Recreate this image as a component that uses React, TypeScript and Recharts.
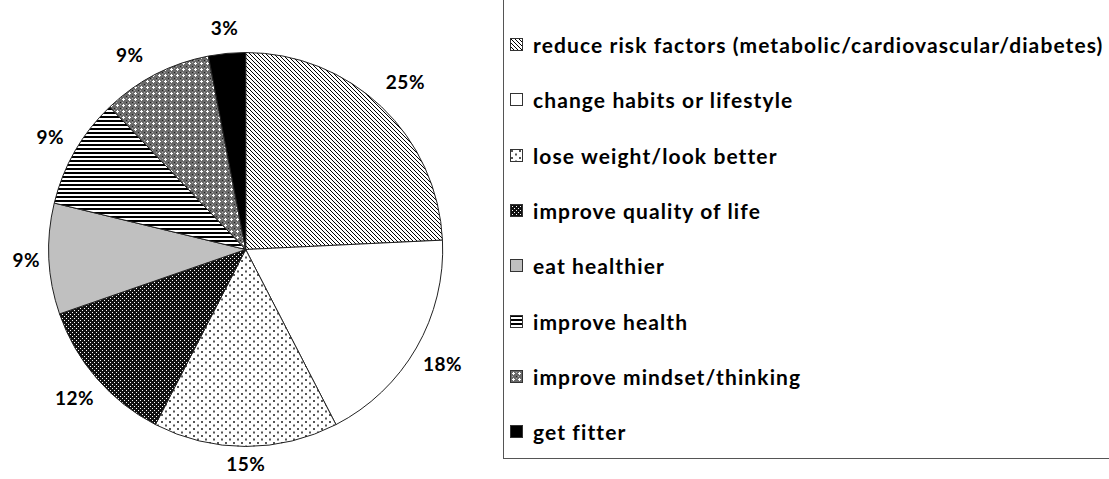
import { PieChart, Pie, Cell, Legend } from "recharts";

const categories = [
  "reduce risk factors (metabolic/cardiovascular/diabetes)",
  "change habits or lifestyle",
  "lose weight/look better",
  "improve quality of life",
  "eat healthier",
  "improve health",
  "improve mindset/thinking",
  "get fitter",
];
// responses per reason (slices: 8/33 etc.)
const counts = [8, 6, 5, 4, 3, 3, 3, 1];
const pctLabels = ["25%", "18%", "15%", "12%", "9%", "9%", "9%", "3%"];
const fills = [
  "url(#pRisk)",
  "#ffffff",
  "url(#pWeight)",
  "url(#pQuality)",
  "#c0c0c0",
  "url(#pHealth)",
  "url(#pMind)",
  "#000000",
];

const data = categories.map((name, i) => ({ name, value: counts[i] }));

const FONT = "Lato, 'Noto Sans', sans-serif";
const RAD = Math.PI / 180;

const renderLabel = (props: any) => {
  const { cx, cy, midAngle, outerRadius, index } = props;
  const text = pctLabels[index];
  // Excel pushes the label next to the small black slice a bit further round
  const nudge = index === 6 ? 3.5 : 0;
  const a = (midAngle + nudge) * RAD;
  const c = Math.cos(-a);
  const s = Math.sin(-a);
  const halfW = text.length * 6.7;
  const halfH = s < 0 ? 16 : 8;
  const r = outerRadius + 9 + halfW * Math.abs(c) + halfH * Math.abs(s);
  return (
    <text
      x={cx + r * c}
      y={cy + r * s}
      textAnchor="middle"
      dominantBaseline="central"
      fontFamily={FONT}
      fontWeight={700}
      fontSize={19}
      letterSpacing={0.5}
      fill="#000"
    >
      {text}
    </text>
  );
};

const renderLegend = () => (
  <div
    style={{
      width: 640,
      height: 461,
      border: "1.5px solid #555",
      boxSizing: "border-box",
      paddingTop: 18,
      paddingLeft: 6,
      fontFamily: FONT,
      fontWeight: 700,
      fontSize: 21,
      letterSpacing: 1.1,
      color: "#000",
    }}
  >
    {categories.map((name, i) => (
      <div key={name} style={{ height: 55.3, display: "flex", alignItems: "center" }}>
        <svg width={13} height={13} style={{ marginRight: 10, flexShrink: 0 }}>
          <rect x={0.5} y={0.5} width={12} height={12} fill={fills[i]} stroke="#333" strokeWidth={1} />
        </svg>
        <span style={{ whiteSpace: "nowrap" }}>{name}</span>
      </div>
    ))}
  </div>
);

export default function App() {
  return (
    <div style={{ position: "absolute", left: 0, top: 0, width: 1109, height: 479, background: "#fff", overflow: "hidden" }}>
      <PieChart width={1109} height={479}>
        <defs>
          <pattern id="pRisk" patternUnits="userSpaceOnUse" width={4} height={4}>
            <rect width={4} height={4} fill="#fff" />
            <path d="M-1,-1 L5,5 M3,-1 L5,1 M-1,3 L1,5" stroke="#000" strokeWidth={1} />
          </pattern>
          <pattern id="pWeight" patternUnits="userSpaceOnUse" width={8} height={7}>
            <rect width={8} height={7} fill="#fff" />
            <rect x={1} y={1} width={2} height={2} fill="#555" />
            <rect x={5} y={4.5} width={2} height={2} fill="#555" />
          </pattern>
          <pattern id="pQuality" patternUnits="userSpaceOnUse" width={4} height={4}>
            <rect width={4} height={4} fill="#111" />
            <rect x={0} y={0} width={1} height={1} fill="#fff" />
            <rect x={2} y={2} width={1} height={1} fill="#fff" />
          </pattern>
          <pattern id="pHealth" patternUnits="userSpaceOnUse" width={4} height={4}>
            <rect width={4} height={4} fill="#fff" />
            <rect x={0} y={0} width={4} height={2} fill="#000" />
          </pattern>
          <pattern id="pMind" patternUnits="userSpaceOnUse" width={6} height={6}>
            <rect width={6} height={6} fill="#6a6a6a" />
            <rect x={0} y={0} width={1} height={1} fill="#222" />
            <rect x={2} y={0} width={1} height={1} fill="#aaa" />
            <rect x={0} y={2} width={1} height={1} fill="#aaa" />
            <rect x={3} y={2} width={1} height={3} fill="#fff" />
            <rect x={2} y={3} width={3} height={1} fill="#fff" />
          </pattern>
        </defs>
        <Pie
          data={data}
          dataKey="value"
          nameKey="name"
          cx={240.7}
          cy={244.5}
          outerRadius={197}
          startAngle={90}
          endAngle={-270}
          stroke="#222"
          strokeWidth={1}
          label={renderLabel}
          labelLine={false}
          isAnimationActive={false}
        >
          {data.map((d, i) => (
            <Cell key={d.name} fill={fills[i]} />
          ))}
        </Pie>
        <Legend
          layout="vertical"
          align="right"
          verticalAlign="top"
          wrapperStyle={{ left: 503, top: -2, width: 640 }}
          content={renderLegend}
        />
      </PieChart>
    </div>
  );
}
